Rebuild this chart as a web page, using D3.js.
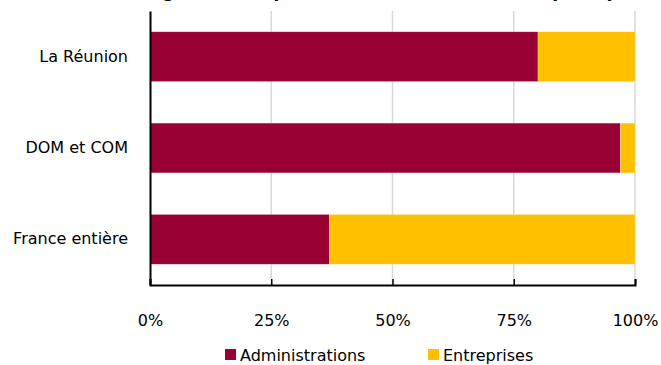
<!DOCTYPE html>
<html lang="fr">
<head>
<meta charset="UTF-8">
<title>Dépenses des secteurs publiques</title>
<script src="https://d3js.org/d3.v7.min.js"></script>
<style>
  body { margin: 0; background: #fff; }
  svg text { font-family: "DejaVu Sans", Verdana, sans-serif; fill: #000; }
</style>
</head>
<body>
<svg id="chart" width="661" height="365"></svg>
<script>
// data
const territoires = ["La Réunion", "DOM et COM", "France entière"];
const administrations = [0.80, 0.97, 0.37];
const entreprises = [0.20, 0.03, 0.63];
const seriesNames = ["Administrations", "Entreprises"];
const seriesColors = ["#990033", "#FFC000"];
const tickValues = [0, 0.25, 0.5, 0.75, 1];

const svg = d3.select("#chart");
const margin = {left: 150, right: 26, top: 11, bottom: 80};
const width = 661, height = 365;

const x = d3.scaleLinear().domain([0, 1]).range([margin.left, width - margin.right]);
const y = d3.scaleBand().domain(territoires).range([margin.top, height - margin.bottom]).paddingInner(0.455).paddingOuter(0.2275);

// title (mostly cropped off at the top, as in the original)
svg.append("text")
  .attr("x", 390).attr("y", -3)
  .attr("text-anchor", "middle")
  .style("font-weight", "bold").style("font-size", "17px")
  .text("Origine des dépenses de R&D des secteurs publiques");

// vertical gridlines
svg.append("g").selectAll("line")
  .data(tickValues.slice(1))
  .join("line")
  .attr("x1", d => x(d)).attr("x2", d => x(d))
  .attr("y1", margin.top).attr("y2", height - margin.bottom)
  .attr("stroke", "#d9d9d9").attr("stroke-width", 1.5);

// stacked bars
const rows = territoires.map((t, i) => ({t, vals: [administrations[i], entreprises[i]]}));
rows.forEach(r => {
  let x0 = 0;
  r.vals.forEach((v, k) => {
    svg.append("rect")
      .attr("x", x(x0)).attr("width", x(x0 + v) - x(x0))
      .attr("y", y(r.t)).attr("height", y.bandwidth())
      .attr("fill", seriesColors[k])
      .attr("stroke", "#fff").attr("stroke-width", 0.5).attr("stroke-opacity", 0.5);
    x0 += v;
  });
});

// axes
const xAxis = svg.append("g")
  .attr("transform", `translate(0,${height - margin.bottom})`)
  .call(d3.axisBottom(x).tickValues(tickValues).tickFormat(d3.format(".0%")).tickSize(-6).tickPadding(30));
xAxis.select(".domain").attr("stroke", "#000").attr("stroke-width", 2);
xAxis.selectAll(".tick line").attr("stroke", "#000").attr("stroke-width", 1.5);
xAxis.selectAll("text").style("font-size", "16px").style("font-family", "DejaVu Sans, sans-serif").attr("fill", "#000");

const yAxis = svg.append("g")
  .attr("transform", `translate(${margin.left},0)`)
  .call(d3.axisLeft(y).tickSize(0).tickPadding(22));
yAxis.select(".domain").attr("stroke", "#000").attr("stroke-width", 2);
yAxis.selectAll("text").style("font-size", "16px").style("font-family", "DejaVu Sans, sans-serif").attr("fill", "#000");

// legend
const legendX = [225, 428];
const legend = svg.append("g").selectAll("g")
  .data(seriesNames)
  .join("g")
  .attr("transform", (d, i) => `translate(${legendX[i]},349)`);
legend.append("rect").attr("width", 11).attr("height", 11).attr("fill", (d, i) => seriesColors[i]);
legend.append("text").attr("x", 15).attr("y", 12).style("font-size", "16px").text(d => d);
</script>
</body>
</html>
